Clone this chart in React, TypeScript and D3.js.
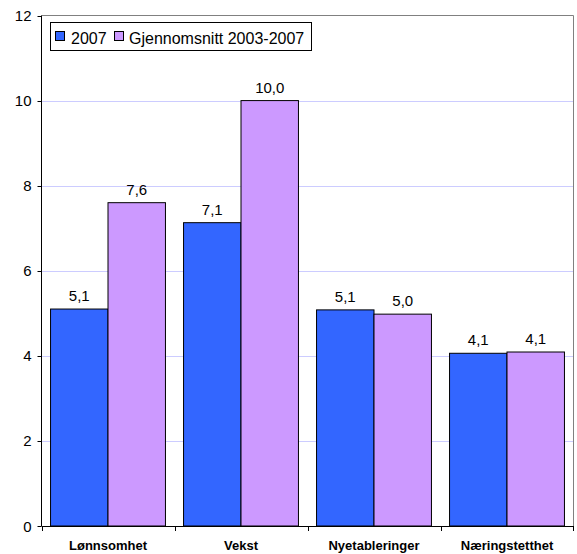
import React from "react";
import * as d3 from "d3";

const categories = ["Lønnsomhet", "Vekst", "Nyetableringer", "Næringstetthet"];
const series2007 = [5.1, 7.13, 5.08, 4.06];
const seriesAvg = [7.6, 10.0, 4.98, 4.09];
const labels2007 = ["5,1", "7,1", "5,1", "4,1"];
const labelsAvg = ["7,6", "10,0", "5,0", "4,1"];
const yTicks = [0, 2, 4, 6, 8, 10, 12];
const seriesNames = ["2007", "Gjennomsnitt 2003-2007"];
const colors = ["#3366FF", "#CC99FF"];

export default function App() {
  const W = 577, H = 554;
  const left = 41.5, right = 573.5, top = 15.5, bottom = 526;
  const y = d3.scaleLinear().domain([0, 12]).range([bottom, top]);
  const x = d3.scaleBand().domain(categories).range([left, right]).paddingInner(0).paddingOuter(0);
  const bw = x.bandwidth();
  const barW = bw * 0.432;
  const font = "'Liberation Sans', Arial, sans-serif";
  const series = [series2007, seriesAvg];
  const lbls = [labels2007, labelsAvg];

  return (
    <svg width={W} height={H} style={{ position: "absolute", left: 0, top: 0 }} fontFamily={font}>
      <rect x={0} y={0} width={W} height={H} fill="#fff" />
      {/* gridlines */}
      {yTicks.filter((t) => t > 0 && t < 12).map((t) => (
        <line key={t} x1={left} x2={right} y1={Math.round(y(t)) + 0.5} y2={Math.round(y(t)) + 0.5} stroke="#CCCCFF" strokeWidth={1} />
      ))}
      {/* plot border top & right */}
      <line x1={left} x2={right} y1={top} y2={top} stroke="#808080" />
      <line x1={right} x2={right} y1={top} y2={bottom} stroke="#808080" />
      {/* bars */}
      {categories.map((c, i) => {
        const x0 = (x(c) as number) + (bw - 2 * barW) / 2;
        return series.map((s, j) => (
          <g key={c + j}>
            <rect x={x0 + j * barW} y={y(s[i])} width={barW} height={bottom - y(s[i])} fill={colors[j]} stroke="#000" strokeWidth={1} />
            <text x={x0 + j * barW + barW / 2} y={y(s[i]) - 8} textAnchor="middle" fontSize={15} fill="#000">{lbls[j][i]}</text>
          </g>
        ));
      })}
      {/* y axis */}
      <line x1={left} x2={left} y1={top} y2={bottom} stroke="#000" />
      {yTicks.map((t) => (
        <g key={t}>
          <line x1={left - 4} x2={left} y1={Math.round(y(t)) + 0.5} y2={Math.round(y(t)) + 0.5} stroke="#000" />
          <text x={31.5} y={y(t) + 5.5} textAnchor="end" fontSize={15} fill="#000">{t}</text>
        </g>
      ))}
      {/* x axis */}
      <line x1={left} x2={right} y1={bottom + 0.5} y2={bottom + 0.5} stroke="#000" />
      {categories.map((c, i) => (
        <line key={"t" + i} x1={Math.round(x(c) as number) + 0.5} x2={Math.round(x(c) as number) + 0.5} y1={bottom} y2={bottom + 5} stroke="#000" />
      ))}
      <line x1={right} x2={right} y1={bottom} y2={bottom + 5} stroke="#000" />
      {categories.map((c) => (
        <text key={c} x={(x(c) as number) + bw / 2} y={550} textAnchor="middle" fontSize={13} fontWeight="bold" fill="#000">{c}</text>
      ))}
      {/* legend */}
      <rect x={50.5} y={22.5} width={261} height={28} fill="#fff" stroke="#000" />
      <rect x={55.5} y={31.5} width={9} height={9} fill={colors[0]} stroke="#000" />
      <text x={71} y={43.5} fontSize={16} fill="#000">{seriesNames[0]}</text>
      <rect x={114.5} y={31.5} width={9} height={9} fill={colors[1]} stroke="#000" />
      <text x={129} y={43.5} fontSize={16} fill="#000">{seriesNames[1]}</text>
    </svg>
  );
}
